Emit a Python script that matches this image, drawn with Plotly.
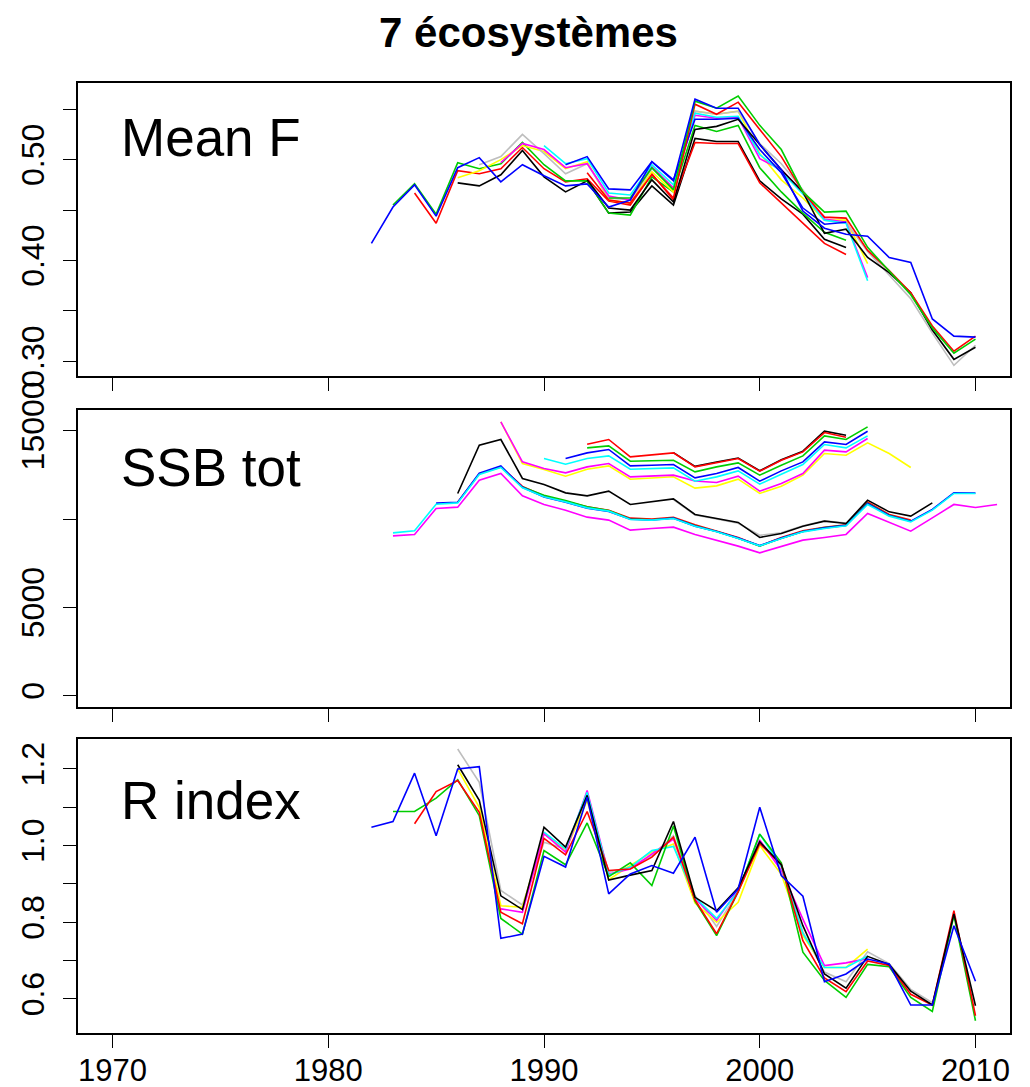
import plotly.graph_objects as go

# ---------------- data ----------------
YEAR_TICKS = [1970, 1980, 1990, 2000, 2010]

# Mean F panel: (start year, values)
F_BLACK_A_START = 1986
F_BLACK_A = [0.477, 0.474, 0.485, 0.509, 0.483, 0.468, 0.479, 0.447, 0.448, 0.474, 0.455,
             0.521, 0.518, 0.518, 0.479, 0.461, 0.446, 0.421, 0.413]
F_RED_A_START = 1984
F_RED_A = [0.467, 0.437, 0.489, 0.486, 0.491, 0.512, 0.491, 0.478, 0.481, 0.459, 0.455, 0.486,
           0.460, 0.517, 0.516, 0.516, 0.477, 0.457, 0.437, 0.417, 0.406]
F_GREEN_A_START = 1983
F_GREEN_A = [0.455, 0.476, 0.446, 0.497, 0.491, 0.496, 0.517, 0.495, 0.479, 0.479, 0.447, 0.445,
             0.483, 0.468, 0.534, 0.528, 0.534, 0.492, 0.468, 0.447, 0.428, 0.420]
F_YELLOW_START = 1986
F_YELLOW = [0.482, 0.489, 0.500, 0.514, 0.508, 0.491, 0.498, 0.460, 0.457, 0.488, 0.468, 0.548,
            0.545, 0.548, 0.506, 0.480, 0.462, 0.440, 0.440, 0.397]
F_GRAY_START = 1987
F_GRAY = [0.495, 0.503, 0.525, 0.506, 0.486, 0.496, 0.462, 0.460, 0.491, 0.472, 0.548, 0.545,
          0.548, 0.516, 0.496, 0.470, 0.440, 0.438, 0.409, 0.386, 0.362, 0.328, 0.296, 0.316]
F_MAGENTA_START = 1988
F_MAGENTA = [0.497, 0.516, 0.510, 0.492, 0.496, 0.464, 0.460, 0.493, 0.472, 0.544, 0.541, 0.542,
             0.501, 0.490, 0.468, 0.441, 0.438, 0.383]
F_CYAN_START = 1990
F_CYAN = [0.514, 0.496, 0.501, 0.467, 0.465, 0.495, 0.475, 0.546, 0.542, 0.543, 0.505, 0.488,
          0.466, 0.440, 0.437, 0.380]
F_BLUE_B_START = 1991
F_BLUE_B = [0.495, 0.503, 0.471, 0.470, 0.498, 0.480, 0.540, 0.540, 0.541, 0.510, 0.487, 0.452,
            0.436, 0.438]
F_BLACK_B_START = 1992
F_BLACK_B = [0.480, 0.452, 0.450, 0.480, 0.458, 0.530, 0.533, 0.540, 0.515, 0.490, 0.468, 0.427,
             0.431, 0.403, 0.388, 0.368, 0.331, 0.302, 0.314]
F_RED_B_START = 1992
F_RED_B = [0.487, 0.460, 0.457, 0.485, 0.462, 0.555, 0.545, 0.557, 0.530, 0.503, 0.468, 0.443,
           0.442, 0.410, 0.390, 0.368, 0.335, 0.310, 0.325]
F_GREEN_B_START = 1993
F_GREEN_B = [0.462, 0.462, 0.492, 0.470, 0.558, 0.551, 0.563, 0.534, 0.510, 0.468, 0.448, 0.449,
             0.413, 0.390, 0.366, 0.333, 0.308, 0.322]
F_BLUE_A_START = 1982
F_BLUE_A = [0.417, 0.453, 0.475, 0.444, 0.492, 0.502, 0.478, 0.495, 0.484, 0.474, 0.476, 0.453,
            0.460, 0.498, 0.479, 0.560, 0.551, 0.551, 0.515, 0.490, 0.449, 0.432, 0.426, 0.424,
            0.403, 0.398, 0.342, 0.325, 0.324]

# SSB tot panel
S_MAGENTA_LOW_START = 1983
S_MAGENTA_LOW = [9050, 9129, 10600, 10673, 12200, 12579, 11312, 10826, 10503, 10107, 9938, 9372,
                 9468, 9542, 9130, 8806, 8467, 8088, 8428, 8806, 8959, 9129, 10316, 9808, 9315,
                 10068, 10826, 10656, 10826]
S_RED_LOW_START = 1986
S_RED_LOW = [10950, 12560, 12950, 11850, 11300, 11000, 10700, 10500, 10050, 10000, 10100, 9680,
             9330, 8950, 8480, 8950, 9330, 9540, 9680, 10960, 10260, 9950]
S_GREEN_LOW_START = 1989
S_GREEN_LOW = [11820, 11350, 11050, 10700, 10480, 10000, 9960, 10060, 9620, 9300, 8920, 8470,
               8920, 9300, 9520, 9650, 10900, 10210, 9880]
S_BLUE_LOW_START = 1985
S_BLUE_LOW = [10900, 10950, 12600, 13000, 11800, 11250, 10950, 10620, 10430, 9990, 9950, 10050,
              9600, 9290, 8920, 8500, 8920, 9300, 9500, 9640, 10880, 10200, 9880, 10540, 11480,
              11470]
S_CYAN_LOW_START = 1983
S_CYAN_LOW = [9220, 9333, 10843, 10916, 12522, 12918, 11765, 11256, 10973, 10633, 10447, 9977,
              9938, 10034, 9590, 9276, 8903, 8484, 8903, 9276, 9468, 9615, 10826, 10164, 9842,
              10503, 11448, 11448]
S_GRAY_START = 1996
S_GRAY = [11100, 10230, 10000, 9760, 9080, 9220, 9620, 9900, 9780]
S_BLACK_LOW_START = 1986
S_BLACK_LOW = [11448, 14180, 14502, 12296, 11957, 11482, 11312, 11578, 10826, 10973, 11142,
               10260, 10034, 9808, 8959, 9185, 9598, 9881, 9751, 11069, 10407, 10164, 10916]
S_YELLOW_UP_START = 1988
S_YELLOW_UP = [15498, 13140, 12800, 12424, 12820, 13010, 12255, 12330, 12390, 11750, 11878,
               12256, 11448, 11861, 12483, 13710, 13614, 14310, 13710, 12918]
S_MAGENTA_UP_START = 1988
S_MAGENTA_UP = [15498, 13235, 12860, 12613, 12952, 13145, 12387, 12443, 12483, 12150, 12070,
                12426, 11578, 12013, 12579, 13897, 13801, 14559]
S_CYAN_UP_START = 1990
S_CYAN_UP = [13427, 13105, 13427, 13575, 12822, 12862, 12896, 12143, 12387, 12726, 11974, 12540,
             13088, 14219, 14028, 14706]
S_BLUE_UP_START = 1991
S_BLUE_UP = [13427, 13744, 13937, 13009, 13048, 13088, 12330, 12579, 12918, 12143, 12726, 13235,
             14366, 14219, 14971]
S_GREEN_UP_START = 1992
S_GREEN_UP = [14028, 14141, 13275, 13294, 13331, 12670, 12952, 13179, 12483, 13048, 13575,
              14706, 14502, 15215]
S_BLACK_UP_START = 1996
S_BLACK_UP = [13760, 12980, 13230, 13450, 12730, 13360, 13840, 14971, 14745]
S_RED_UP_START = 1992
S_RED_UP = [14236, 14502, 13518, 13614, 13744, 12952, 13200, 13427, 12709, 13331, 13801, 14896,
            14632]

# R index panel
R_GRAY_START = 1986
R_GRAY = [1.252, 1.165, 0.883, 0.845, 1.009, 0.991, 1.124, 0.931, 0.944, 0.974, 1.026, 0.870,
          0.789, 0.880, 1.010, 0.945, 0.775, 0.670, 0.645, 0.723, 0.692, 0.625, 0.590]
R_YELLOW_START = 1986
R_YELLOW = [1.200, 1.100, 0.843, 0.839, 1.031, 0.987, 1.118, 0.911, 0.948, 0.983, 1.004, 0.850,
            0.800, 0.852, 1.000, 0.925, 0.765, 0.682, 0.682, 0.730]
R_MAGENTA_START = 1988
R_MAGENTA = [0.835, 0.826, 1.031, 0.983, 1.144, 0.926, 0.939, 0.979, 1.017, 0.862, 0.805, 0.885,
             1.015, 0.935, 0.808, 0.687, 0.694, 0.705]
R_CYAN_START = 1990
R_CYAN = [1.035, 0.991, 1.139, 0.923, 0.944, 0.987, 0.998, 0.865, 0.810, 0.880, 1.030, 0.945,
          0.770, 0.682, 0.682, 0.712]
R_GREEN_START = 1983
R_GREEN = [1.089, 1.089, 1.124, 1.172, 1.078, 0.810, 0.769, 0.987, 0.950, 1.059, 0.919, 0.955,
           0.896, 1.051, 0.855, 0.765, 0.880, 1.030, 0.955, 0.722, 0.648, 0.604, 0.690, 0.684,
           0.604, 0.567, 0.818, 0.543]
R_RED_START = 1984
R_RED = [1.057, 1.141, 1.170, 1.087, 0.826, 0.796, 1.019, 0.976, 1.089, 0.935, 0.939, 0.970,
         1.022, 0.858, 0.770, 0.880, 1.005, 0.950, 0.752, 0.655, 0.619, 0.699, 0.687, 0.612,
         0.584, 0.830, 0.556]
R_BLACK_START = 1986
R_BLACK = [1.211, 1.118, 0.869, 0.833, 1.048, 0.996, 1.131, 0.910, 0.923, 0.935, 1.063, 0.865,
           0.830, 0.890, 1.010, 0.950, 0.791, 0.665, 0.628, 0.711, 0.690, 0.620, 0.584, 0.822,
           0.582]
R_BLUE_START = 1982
R_BLUE = [1.048, 1.063, 1.189, 1.026, 1.200, 1.206, 0.758, 0.769, 0.972, 0.944, 1.126, 0.874,
          0.926, 0.948, 0.928, 1.022, 0.826, 0.887, 1.100, 0.922, 0.868, 0.645, 0.665, 0.704,
          0.691, 0.584, 0.584, 0.791, 0.646]

# ---------------- styling ----------------
COL = {"black": "#000000", "red": "#FF0000", "green": "#00CD00", "blue": "#0000FF",
       "cyan": "#00FFFF", "magenta": "#FF00FF", "yellow": "#FFFF00", "gray": "#BEBEBE"}

panel_f = [("black", F_BLACK_A_START, F_BLACK_A), ("red", F_RED_A_START, F_RED_A),
           ("green", F_GREEN_A_START, F_GREEN_A), ("yellow", F_YELLOW_START, F_YELLOW),
           ("gray", F_GRAY_START, F_GRAY), ("magenta", F_MAGENTA_START, F_MAGENTA),
           ("cyan", F_CYAN_START, F_CYAN), ("blue", F_BLUE_B_START, F_BLUE_B),
           ("black", F_BLACK_B_START, F_BLACK_B), ("red", F_RED_B_START, F_RED_B),
           ("green", F_GREEN_B_START, F_GREEN_B), ("blue", F_BLUE_A_START, F_BLUE_A)]
panel_s = [("magenta", S_MAGENTA_LOW_START, S_MAGENTA_LOW), ("red", S_RED_LOW_START, S_RED_LOW),
           ("green", S_GREEN_LOW_START, S_GREEN_LOW), ("blue", S_BLUE_LOW_START, S_BLUE_LOW),
           ("cyan", S_CYAN_LOW_START, S_CYAN_LOW), ("gray", S_GRAY_START, S_GRAY),
           ("black", S_BLACK_LOW_START, S_BLACK_LOW), ("yellow", S_YELLOW_UP_START, S_YELLOW_UP),
           ("magenta", S_MAGENTA_UP_START, S_MAGENTA_UP), ("cyan", S_CYAN_UP_START, S_CYAN_UP),
           ("blue", S_BLUE_UP_START, S_BLUE_UP), ("green", S_GREEN_UP_START, S_GREEN_UP),
           ("black", S_BLACK_UP_START, S_BLACK_UP), ("red", S_RED_UP_START, S_RED_UP)]
panel_r = [("gray", R_GRAY_START, R_GRAY), ("yellow", R_YELLOW_START, R_YELLOW),
           ("magenta", R_MAGENTA_START, R_MAGENTA), ("cyan", R_CYAN_START, R_CYAN),
           ("green", R_GREEN_START, R_GREEN), ("red", R_RED_START, R_RED),
           ("black", R_BLACK_START, R_BLACK), ("blue", R_BLUE_START, R_BLUE)]

fig = go.Figure()
for axis_idx, panel in ((1, panel_f), (2, panel_s), (3, panel_r)):
    for cname, start, vals in panel:
        fig.add_trace(go.Scatter(
            x=[start + i for i in range(len(vals))], y=vals, mode="lines",
            line=dict(color=COL[cname], width=1.6),
            xaxis="x" if axis_idx == 1 else f"x{axis_idx}",
            yaxis="y" if axis_idx == 1 else f"y{axis_idx}",
            showlegend=False, hoverinfo="skip"))

FONT = "Liberation Sans, Arial, Helvetica, sans-serif"
W, H = 1030, 1087
ML, MR, MT, MB = 78, 20, 83, 54

common_x = dict(range=[1968.4, 2011.6], showgrid=False, zeroline=False, showline=True,
                mirror=True, linecolor="black", linewidth=1.5, ticks="outside", ticklen=13,
                tickwidth=1.3, tickcolor="black", tickvals=YEAR_TICKS,
                tickfont=dict(family=FONT, size=31, color="black"))
common_y = dict(showgrid=False, zeroline=False, showline=True, mirror=True, linecolor="black",
                linewidth=1.5, ticks="outside", ticklen=13, tickwidth=1.3, tickcolor="black",
                tickangle=-90, tickfont=dict(family=FONT, size=32, color="black"),
                ticklabelstandoff=6)

fig.update_layout(
    width=W, height=H, margin=dict(l=ML, r=MR, t=MT, b=MB, autoexpand=False),
    paper_bgcolor="white", plot_bgcolor="white",
    xaxis=dict(common_x, anchor="y", showticklabels=False),
    xaxis2=dict(common_x, anchor="y2", showticklabels=False),
    xaxis3=dict(common_x, anchor="y3", ticktext=[str(v) for v in YEAR_TICKS],
                ticklabelstandoff=-4),
    yaxis=dict(common_y, domain=[0.6916, 1.0], range=[0.2855, 0.576],
               tickvals=[0.30, 0.35, 0.40, 0.45, 0.50, 0.55],
               ticktext=["0.30", "", "0.40", "", "0.50", ""]),
    yaxis2=dict(common_y, domain=[0.3428, 0.6561], range=[-656, 16188],
                tickvals=[0, 5000, 10000, 15000], ticktext=["0", "5000", "", "15000"]),
    yaxis3=dict(common_y, domain=[0.0, 0.3092], range=[0.511, 1.2775],
                tickvals=[0.6, 0.7, 0.8, 0.9, 1.0, 1.1, 1.2],
                ticktext=["0.6", "", "0.8", "", "1.0", "", "1.2"]),
)

def px_x(px):
    return (px - ML) / (W - ML - MR)

def px_y(py):
    return 1 - (py - MT) / (H - MT - MB)

fig.add_annotation(text="<b>7 écosystèmes</b>", x=px_x(528), y=px_y(32), xref="paper",
                   yref="paper", showarrow=False, xanchor="center", yanchor="middle",
                   font=dict(family=FONT, size=42, color="black"))
for label, cy in (("Mean F", 138), ("SSB tot", 467), ("R index", 800)):
    fig.add_annotation(text=label, x=px_x(119), y=px_y(cy), xref="paper", yref="paper",
                       showarrow=False, xanchor="left", yanchor="middle",
                       font=dict(family=FONT, size=53, color="black"))

fig.write_html("out.html", config={"displayModeBar": False},
               post_script="document.body.style.margin='0px';document.body.style.overflow='hidden';")
